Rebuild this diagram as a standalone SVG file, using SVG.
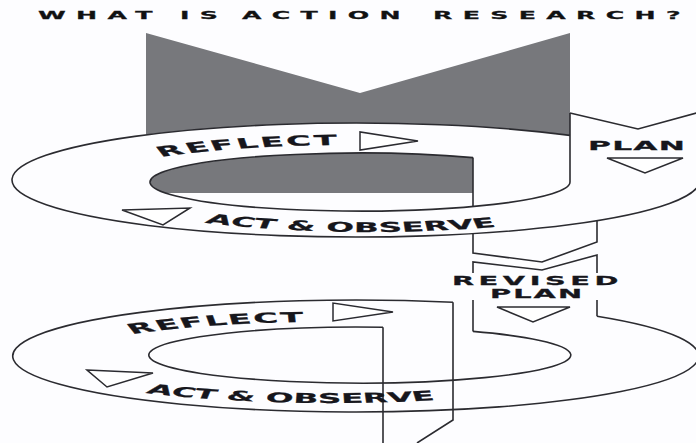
<svg xmlns="http://www.w3.org/2000/svg" width="696" height="443" viewBox="0 0 696 443">
<style>
.ln{fill:none;stroke:#2b2b30;stroke-width:1.6;stroke-linejoin:miter}
.tri{fill:#ffffff;stroke:#2b2b30;stroke-width:1.5}
.gray{fill:#77787c}
.lbl{font-family:"DejaVu Sans","Liberation Sans",sans-serif;font-weight:bold;fill:#16161c;stroke:#16161c;stroke-width:0.25}
</style>
<defs>
<path id="p1" d="M 67.5 156.9 A 107.92 37 0 0 1 150 145"/>
<path id="p2" d="M 85.42 222.8 A 120.83 52 0 0 0 216.67 224.5"/>
<path id="p3" d="M 55.4 334.2 A 107.92 37 0 0 1 138.33 322"/>
<path id="p4" d="M 60.83 393.1 A 125 47 0 0 0 191.67 398.4"/>
</defs>
<rect width="696" height="443" fill="#fdfdff"/>

<g id="loop1">
  <polygon class="gray" points="146,33 360,93 570,33 570,150 146,150"/>
  <ellipse cx="356" cy="180" rx="344" ry="57" fill="#fdfdff"/>
  <path class="gray" d="M 473 157.6 A 210 29 0 0 0 165.7 193 L 473 193 Z"/>
  <path class="ln" d="M 570 135.4 A 344 57 0 1 0 700 180"/>
  <path class="ln" d="M 473 157.6 A 210 29 0 1 0 570 182 L 570 113"/>
  <line class="ln" x1="473" y1="157.6" x2="473" y2="206.4"/>
  <polyline class="ln" points="570,113 638,129 700,112"/>
  <polygon class="tri" points="360,132 360,150 418,141"/>
  <polygon class="tri" points="607,158 683,158 645,173"/>
  <polygon class="tri" points="122,210 190,208 163,225"/>
</g>

<g id="connectors">
  <polyline class="ln" points="473,233.6 473,253 542,262 597,242 597,220.7"/>
  <polyline class="ln" points="473,273 473,262 542,270 597,255 597,273"/>
  <polygon class="tri" points="497,307 570,307 533,322"/>
  <line class="ln" x1="473" y1="300" x2="473" y2="331.4"/>
  <line class="ln" x1="597" y1="300" x2="597" y2="316.2"/>
  <line class="ln" x1="383" y1="327.2" x2="383" y2="443"/>
  <polyline class="ln" points="453,302.3 453,420 417,443"/>
</g>

<g id="loop2">
  <path class="ln" d="M 597 316.2 A 343 56 0 1 1 453 302.3"/>
  <path class="ln" d="M 473 331.4 A 211 28 0 1 1 383 327.2"/>
  <polygon class="tri" points="333,303 333,321 393,312"/>
  <polygon class="tri" points="87,370 153,373 107,387"/>
</g>

<g id="labels" transform="scale(2.4,1)" class="lbl">
  <text id="title" y="19" font-size="10.5" letter-spacing="4.3" fill="#111"><tspan x="15.8">WHAT</tspan><tspan x="75">IS</tspan><tspan x="100.8">ACTION</tspan><tspan x="180.4">RESEARCH?</tspan></text>
  <text font-size="14" letter-spacing="1.0"><textPath href="#p1">REFLECT</textPath></text>
  <text font-size="13.5" letter-spacing="0.1"><textPath href="#p2">ACT &amp; OBSERVE</textPath></text>
  <text x="245" y="150" font-size="13" letter-spacing="0.55">PLAN</text>
  <text x="188.3" y="285.5" font-size="12" letter-spacing="1.9">REVISED</text>
  <text x="204.2" y="298" font-size="12" letter-spacing="0.85">PLAN</text>
  <text font-size="14" letter-spacing="0.7"><textPath href="#p3">REFLECT</textPath></text>
  <text font-size="13.5" letter-spacing="0"><textPath href="#p4">ACT &amp; OBSERVE</textPath></text>
</g>
</svg>
